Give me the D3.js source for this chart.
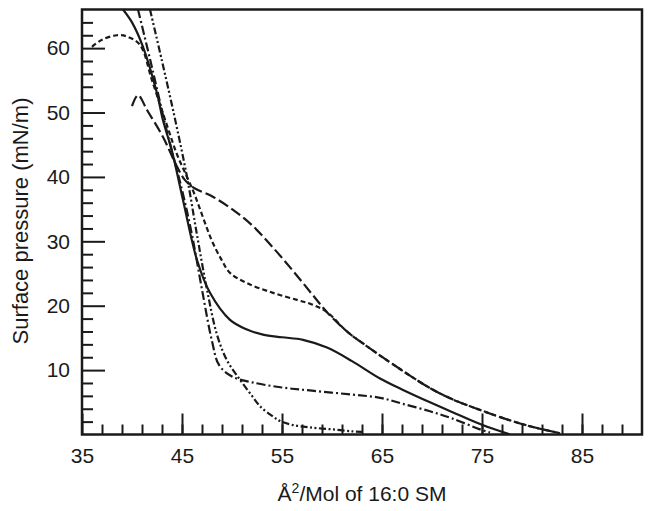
<!DOCTYPE html>
<html>
<head>
<meta charset="utf-8">
<script src="https://cdn.jsdelivr.net/npm/d3@7"></script>
<style>
  body { margin: 0; background: #fff; }
  text { font-family: "Liberation Sans", Arial, sans-serif; fill: #1a1a1a; }
</style>
</head>
<body>
<script>
"use strict";

// Isotherm data: [area (Å²/molecule), surface pressure (mN/m)]

const solidCurve = [
    [39.1, 66], [40.0, 64], [41.1, 60.2], [42.5, 53], [43.1, 48.8], [44.0, 44],
    [45.1, 36.4], [46.5, 27.1], [47.8, 22], [49.8, 17.8], [51.5, 16.3], [53.1, 15.5],
    [55.0, 15.1], [57.1, 14.7], [59.5, 13.5], [62.0, 11.4], [64.8, 8.7], [67.0, 7],
    [69.8, 5.0], [72.0, 3.5], [75.0, 1.5], [77.8, 0]
];

const longDashCurve = [
    [40.0, 51], [40.6, 52.7], [41.5, 50.4], [43.1, 46.2], [44.5, 41.6], [45.3, 39.5],
    [46.3, 38.2], [48.0, 37], [50.0, 35], [52.0, 32.5], [54.0, 29.2], [56.0, 25.6],
    [58.0, 21.8], [59.5, 19], [61.5, 16], [63.5, 13.7], [66.0, 11], [69.8, 7.2],
    [72.0, 5.5], [75.0, 3.7], [78.0, 2.1], [80.0, 1.2], [82.8, 0.2]
];

const shortDashCurve = [
    [36.0, 60.2], [37.0, 61.3], [38.5, 62], [39.5, 61.8], [40.8, 60.5], [42.0, 55],
    [43.5, 48], [44.5, 43.5], [45.5, 40], [46.2, 37.5], [46.8, 35], [47.5, 32],
    [48.1, 29.7], [49.0, 27], [49.8, 25.1], [51.5, 23.5], [54.1, 22], [56.5, 20.9],
    [58.0, 20.2], [59.5, 19], [61.5, 16], [63.5, 13.7], [66.0, 11], [69.8, 7.2],
    [72.0, 5.5], [75.0, 3.7], [78.0, 2.1], [80.0, 1.2], [82.8, 0.2]
];

const dashDotCurve = [
    [40.6, 66], [42.0, 57], [43.5, 47], [45.0, 38], [46.0, 31], [47.0, 22.5],
    [48.0, 14.5], [48.7, 10.8], [50.0, 9], [52.0, 8.1], [55.0, 7.3], [58.0, 6.8],
    [62.0, 6.2], [64.8, 5.7], [67.0, 4.8], [69.8, 3.6], [72.0, 2.5], [74.8, 0.8],
    [75.8, 0.3]
];

const dashDotDotCurve = [
    [41.8, 66], [43.0, 58], [44.3, 49], [45.5, 40], [46.5, 31], [47.5, 22.5],
    [48.5, 15.5], [49.5, 11.5], [50.8, 8.5], [52.0, 6], [52.8, 4.4], [54.0, 2.9],
    [54.8, 2.1], [56.0, 1.5], [57.8, 1.1], [60.0, 0.8], [62.0, 0.5], [63.0, 0.4]
];

const series = [
    { points: solidCurve, dash: null },
    { points: longDashCurve, dash: "11,4" },
    { points: shortDashCurve, dash: "5,3" },
    { points: dashDotCurve, dash: "9,3,2,3" },
    { points: dashDotDotCurve, dash: "7,2.5,2,2.5,2,2.5" }
];

const xMajor = [35, 45, 55, 65, 75, 85];
const xMinor = d3.range(37, 91, 2);
const yMajor = [10, 20, 30, 40, 50, 60];
const yMinor = d3.range(2, 66, 2).filter(v => v % 10 !== 0);

// Size parameters

const width = 649;
const height = 511;
const plotLeft = 82;
const plotRight = 642;
const plotTop = 9.5;
const plotBottom = 434.5;
const ink = "#1a1a1a";

const x = d3.scaleLinear().domain([35, 91]).range([plotLeft, plotRight]);
const y = d3.scaleLinear().domain([0, 66]).range([plotBottom, plotTop]);

const svg = d3
    .select('body')
    .append('svg')
    .attr('width', width)
    .attr('height', height);

// Clip curves to the plot box
svg.append('clipPath')
    .attr('id', 'plot-clip')
    .append('rect')
    .attr('x', plotLeft)
    .attr('y', plotTop)
    .attr('width', plotRight - plotLeft)
    .attr('height', plotBottom - plotTop);

/**********
 * Curves *
 **********/

const line = d3.line()
    .x(d => x(d[0]))
    .y(d => y(d[1]))
    .curve(d3.curveCatmullRom.alpha(0.5));

svg.append('g')
    .attr('clip-path', 'url(#plot-clip)')
    .selectAll('path')
    .data(series)
    .enter()
    .append('path')
    .attr('d', d => line(d.points))
    .attr('fill', 'none')
    .attr('stroke', ink)
    .attr('stroke-width', 2.2)
    .attr('stroke-dasharray', d => d.dash);

/********
 * Axes *
 ********/

const styleAxis = g => {
    g.select('.domain').remove();
    g.selectAll('line').attr('stroke', ink).attr('stroke-width', 2);
    g.selectAll('text')
        .attr('font-size', 21)
        .attr('font-family', '"Liberation Sans", Arial, sans-serif')
        .attr('fill', ink);
};

svg.append('g')
    .attr('transform', `translate(0,${plotBottom})`)
    .call(d3.axisBottom(x).tickValues(xMinor).tickSize(-10).tickFormat(''))
    .call(styleAxis);

svg.append('g')
    .attr('transform', `translate(0,${plotBottom})`)
    .call(d3.axisBottom(x).tickValues(xMajor).tickSize(-21).tickPadding(14).tickFormat(d3.format('d')))
    .call(styleAxis);

svg.append('g')
    .attr('transform', `translate(${plotLeft},0)`)
    .call(d3.axisLeft(y).tickValues(yMinor).tickSize(-11).tickFormat(''))
    .call(styleAxis);

svg.append('g')
    .attr('transform', `translate(${plotLeft},0)`)
    .call(d3.axisLeft(y).tickValues(yMajor).tickSize(-23).tickPadding(12).tickFormat(d3.format('d')))
    .call(styleAxis);

// Frame
svg.append('rect')
    .attr('x', plotLeft)
    .attr('y', plotTop)
    .attr('width', plotRight - plotLeft)
    .attr('height', plotBottom - plotTop)
    .attr('fill', 'none')
    .attr('stroke', ink)
    .attr('stroke-width', 2.5);

/**********
 * Titles *
 **********/

const xTitle = svg.append('text')
    .attr('x', (plotLeft + plotRight) / 2)
    .attr('y', 501)
    .attr('text-anchor', 'middle')
    .attr('font-size', 21);
xTitle.append('tspan').text('Å');
xTitle.append('tspan').attr('font-size', 14).attr('dy', -8).text('2');
xTitle.append('tspan').attr('dy', 8).text('/Mol of 16:0 SM');

svg.append('text')
    .attr('transform', `translate(28,221) rotate(-90)`)
    .attr('text-anchor', 'middle')
    .attr('font-size', 22)
    .text('Surface pressure (mN/m)');
</script>
</body>
</html>
